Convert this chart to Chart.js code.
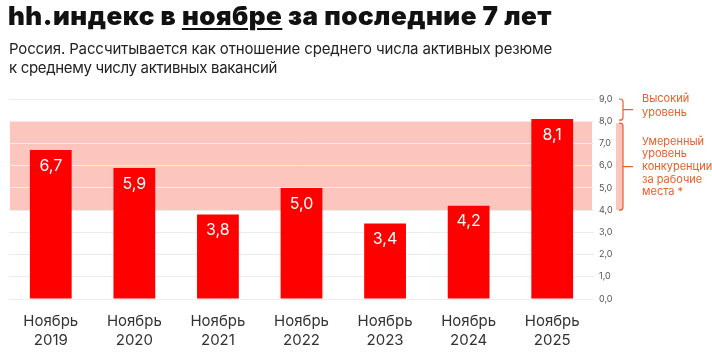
<!DOCTYPE html>
<html><head><meta charset="utf-8">
<script src="https://cdn.jsdelivr.net/npm/chart.js@4/dist/chart.umd.min.js"></script>
<style>
html,body{margin:0;padding:0;background:#fff;}
#wrap{position:relative;width:712px;height:352px;overflow:hidden;font-family:Inter,"Open Sans",sans-serif;}
#title{position:absolute;left:8px;top:0px;font-size:26px;line-height:32px;font-weight:900;color:#111;white-space:nowrap;font-family:Inter,sans-serif;}
#title u{text-decoration-thickness:2px;text-underline-offset:3px;}
#sub{position:absolute;left:9px;top:39px;font-size:15px;line-height:19px;color:#222;white-space:nowrap;}
canvas{position:absolute;left:0;top:0;}
</style></head>
<body><div id="wrap">
<canvas id="c" width="712" height="352"></canvas>
<div id="title">hh.индекс в <u>ноябре</u> за последние 7 лет</div>
<div id="sub"><span id="s1">Россия. Рассчитывается как отношение среднего числа активных резюме</span><br><span id="s2">к среднему числу активных вакансий</span></div>
</div>
<script>
function fitWidth(el, target){
  const w = el.getBoundingClientRect().width;
  const n = el.textContent.length;
  el.style.letterSpacing = ((target - w)/n) + "px";
}
fitWidth(document.getElementById("title"), 544);
fitWidth(document.getElementById("s1"), 543);
fitWidth(document.getElementById("s2"), 268);

const categories = [["Ноябрь","2019"],["Ноябрь","2020"],["Ноябрь","2021"],["Ноябрь","2022"],["Ноябрь","2023"],["Ноябрь","2024"],["Ноябрь","2025"]];
const values = [6.7, 5.9, 3.8, 5.0, 3.4, 4.2, 8.1];
const bandModerate = [4, 8];
const bandHigh = [8, 9];
const highLabel = ["Высокий","уровень"];
const moderateLabel = ["Умеренный","уровень","конкуренции","за рабочие","места *"];

const ORANGE = "#e8602a";
const bgPlugin = {
  id:"bg",
  beforeDraw(chart){
    const {ctx, chartArea:a, scales:{y}} = chart;
    ctx.save();
    ctx.fillStyle = "#fcc6bf";
    const t = y.getPixelForValue(bandModerate[1]), b = y.getPixelForValue(bandModerate[0]);
    ctx.fillRect(a.left+1, t, a.right-a.left-3, b-t);
    ctx.restore();
  },
  afterDraw(chart){
    const {ctx, scales:{y}} = chart;
    ctx.save();
    const mt = y.getPixelForValue(bandModerate[1])+2, mb = y.getPixelForValue(bandModerate[0]);
    ctx.fillStyle = "#fcc6bf";
    ctx.fillRect(616, mt, 7, mb-mt);
    function bracket(t,b){
      const x=623, xl=619, r=3;
      const m=(t+b)/2;
      ctx.beginPath();
      ctx.moveTo(xl,t);
      ctx.lineTo(x-r,t);
      ctx.quadraticCurveTo(x,t,x,t+r);
      ctx.lineTo(x,b-r);
      ctx.quadraticCurveTo(x,b,x-r,b);
      ctx.lineTo(xl,b);
      ctx.moveTo(x,m);
      ctx.lineTo(633,m);
      ctx.stroke();
    }
    ctx.strokeStyle = ORANGE;
    ctx.lineWidth = 1.2;
    bracket(y.getPixelForValue(bandHigh[1]), y.getPixelForValue(bandHigh[0])-1);
    bracket(mt, mb);
    ctx.fillStyle = ORANGE;
    ctx.font = "11px Inter, sans-serif";
    ctx.textBaseline = "middle";
    highLabel.forEach((s,i)=>ctx.fillText(s,642,y.getPixelForValue(9)+0+i*14));
    const mm = (mt+mb)/2;
    moderateLabel.forEach((s,i)=>ctx.fillText(s,642,mm+(i-2)*12.6));
    const meta = chart.getDatasetMeta(0);
    ctx.fillStyle = "#fff";
    ctx.font = "16px Inter, sans-serif";
    ctx.textAlign = "center";
    meta.data.forEach((bar,i)=>{
      ctx.fillText(values[i].toFixed(1).replace(".",","), bar.x, bar.y+16);
    });
    ctx.restore();
  }
};

new Chart(document.getElementById("c"), {
  type:"bar",
  data:{labels:categories, datasets:[{data:values, backgroundColor:"#ff0000", borderWidth:0, barPercentage:0.5, categoryPercentage:1}]},
  options:{
    responsive:false, animation:false,
    layout:{padding:{left:9, top:99, right:0, bottom:0}},
    plugins:{legend:{display:false}, tooltip:{enabled:false}},
    scales:{
      x:{
        grid:{display:false, drawTicks:false},
        border:{display:false},
        ticks:{padding:13, color:"#333", font:{family:"Inter, sans-serif", size:15, lineHeight:1.25}},
        afterFit(s){s.height=53;}
      },
      y:{
        position:"right", min:0, max:9,
        grid:{color:"#ececec", drawTicks:false},
        border:{display:false},
        ticks:{stepSize:1, padding:5, color:"#555", font:{family:"Inter, sans-serif", size:9}, callback:v=>v.toFixed(1).replace(".",",")},
        afterFit(s){s.width=118;}
      }
    }
  },
  plugins:[bgPlugin]
});
</script>
</body></html>
